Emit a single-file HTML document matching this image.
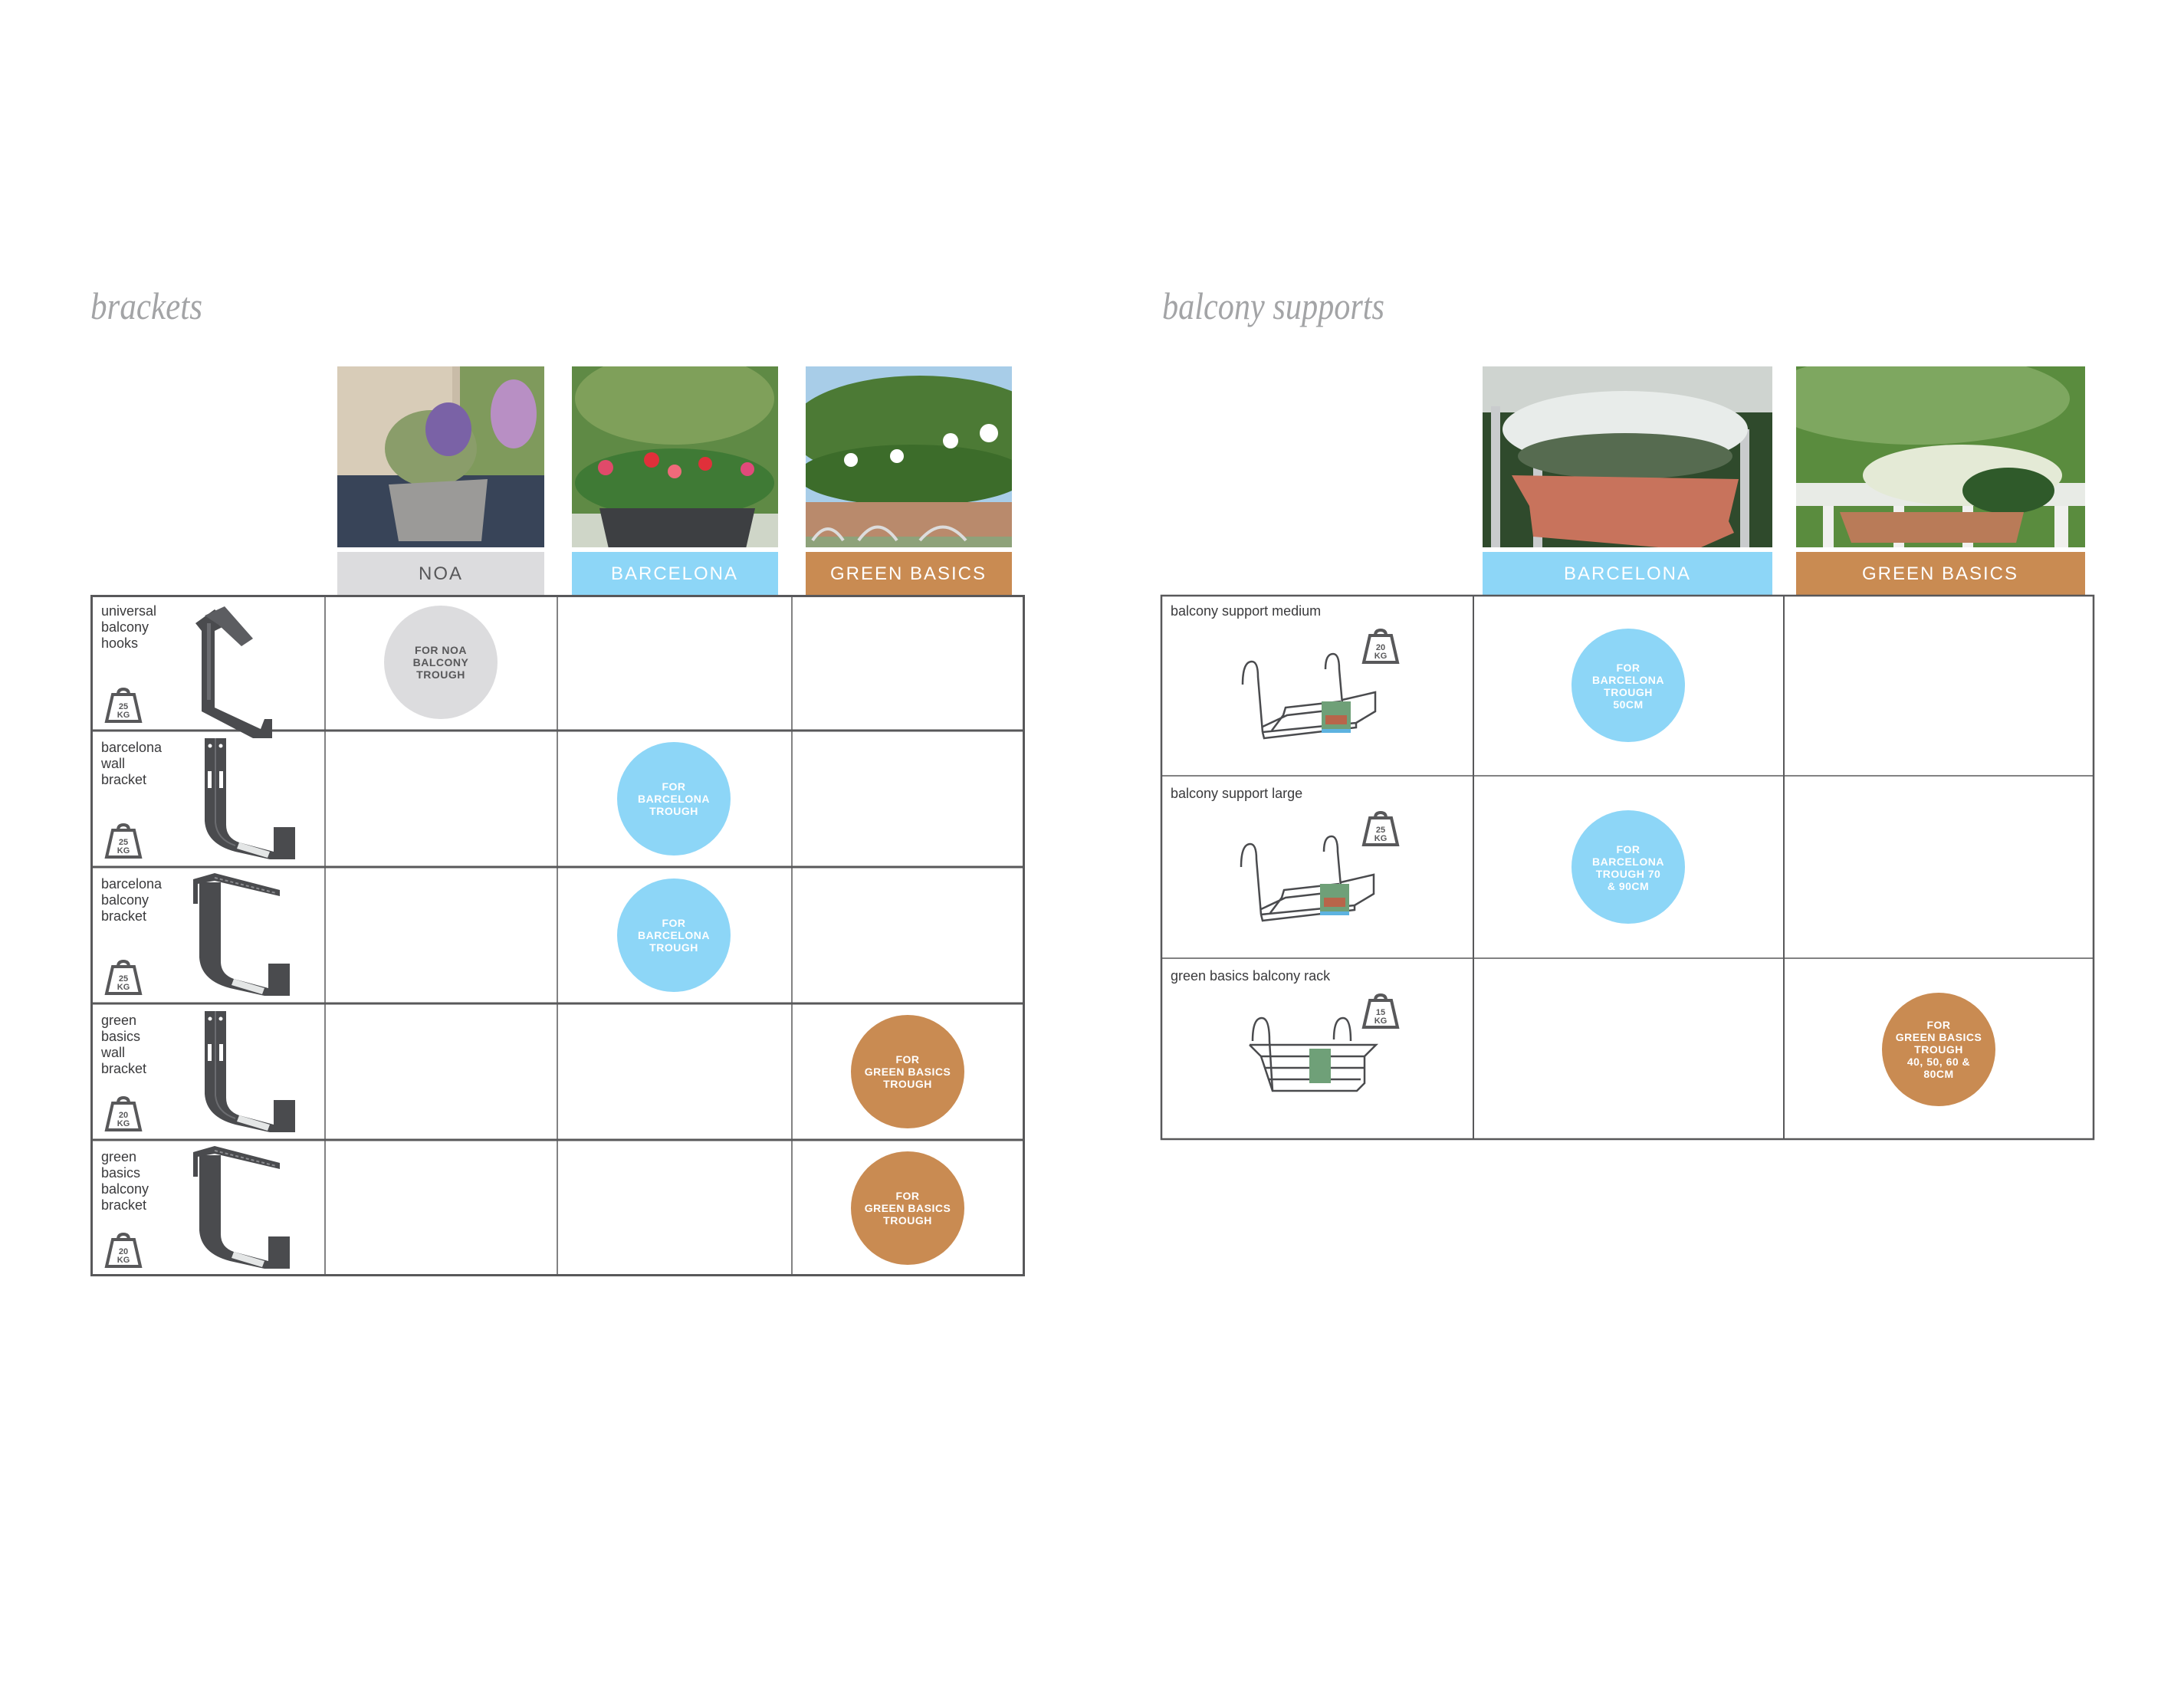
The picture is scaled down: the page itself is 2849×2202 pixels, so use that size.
<!DOCTYPE html>
<html><head><meta charset="utf-8"><style>
html,body{margin:0;padding:0;background:#fff;}
svg{display:block;}
</style></head><body>
<svg width="2849" height="2202" viewBox="0 0 2849 2202" xmlns="http://www.w3.org/2000/svg" font-family="'Liberation Sans Narrow','Liberation Sans',sans-serif">
<defs>
  <g id="wt">
    <path d="M18 10 Q18 3 25 3 Q32 3 32 10" fill="none" stroke="#58585a" stroke-width="4"/>
    <path d="M11 10 L39 10 L47 45 L3 45 Z" fill="#fff" stroke="#58585a" stroke-width="4" stroke-linejoin="miter"/>
  </g>
  <g id="brk">
    <path d="M10 2 L38 2 L38 115 Q38 132 55 138 L100 150 L100 118 L128 118 L128 160 L95 160 L50 150 Q12 140 10 110 Z" fill="#4a4b4e"/>
    <path d="M24 2 L24 112 Q26 134 50 142" fill="none" stroke="#6b6c70" stroke-width="2"/>
    <rect x="14" y="45" width="5" height="22" fill="#fff"/><rect x="29" y="45" width="5" height="22" fill="#fff"/>
    <circle cx="17" cy="12" r="2.5" fill="#fff"/><circle cx="31" cy="12" r="2.5" fill="#fff"/>
    <path d="M55 138 L95 150 L92 158 L52 146 Z" fill="#e4e6e6"/>
  </g>
  <g id="brk2">
    <path d="M10 12 L38 12 L38 115 Q38 132 55 138 L100 150 L100 118 L128 118 L128 160 L95 160 L50 150 Q12 140 10 110 Z" fill="#4a4b4e"/>
    <path d="M2 8 L30 0 L115 22 L115 30 L30 10 L8 14 L8 40 L2 40 Z" fill="#4a4b4e"/>
    <path d="M30 6 L110 26" stroke="#8a8b8f" stroke-width="2" stroke-dasharray="4 3"/>
    <path d="M55 138 L95 150 L92 158 L52 146 Z" fill="#e4e6e6"/>
  </g>
  <g id="rack">
    <g fill="none" stroke="#4a4b4e" stroke-width="2.5">
      <path d="M2 40 Q2 10 14 10 Q22 10 22 30 L28 102"/>
      <path d="M110 20 Q110 0 120 0 Q128 0 128 20 L132 65"/>
      <path d="M28 102 L150 90 L175 75 L175 50 L132 60"/>
      <path d="M28 95 L60 80 L130 72"/>
      <path d="M40 100 L55 80 L58 70 L130 62"/>
      <path d="M28 102 L30 110 L150 96 L150 90"/>
    </g>
    <rect x="105" y="62" width="38" height="38" fill="#6fa078"/>
    <rect x="110" y="80" width="28" height="12" fill="#b8654a"/>
    <rect x="105" y="98" width="38" height="5" fill="#5db3e0"/>
  </g>
  <clipPath id="c1"><rect x="440" y="478" width="270" height="236"/></clipPath>
  <clipPath id="c2"><rect x="746" y="478" width="269" height="236"/></clipPath>
  <clipPath id="c3"><rect x="1051" y="478" width="269" height="236"/></clipPath>
  <clipPath id="c4"><rect x="1934" y="478" width="378" height="236"/></clipPath>
  <clipPath id="c5"><rect x="2343" y="478" width="377" height="236"/></clipPath>
</defs>

<!-- titles -->
<text x="118" y="416" font-family="'Liberation Serif',serif" font-style="italic" font-size="50" fill="#a3a4a6" textLength="146" lengthAdjust="spacingAndGlyphs">brackets</text>
<text x="1516" y="416" font-family="'Liberation Serif',serif" font-style="italic" font-size="50" fill="#a3a4a6" textLength="290" lengthAdjust="spacingAndGlyphs">balcony supports</text>

<!-- photo 1 NOA -->
<g clip-path="url(#c1)">
  <rect x="440" y="478" width="270" height="236" fill="#c9bca8"/>
  <rect x="440" y="478" width="150" height="230" fill="#d8ccb8"/>
  <rect x="600" y="478" width="110" height="236" fill="#7f9a5c"/>
  <ellipse cx="670" cy="540" rx="30" ry="45" fill="#b88fc4"/>
  <rect x="440" y="620" width="270" height="94" fill="#384458"/>
  <ellipse cx="562" cy="585" rx="60" ry="50" fill="#8a9d6a"/>
  <ellipse cx="585" cy="560" rx="30" ry="35" fill="#7a62a6"/>
  <path d="M507 632 L636 625 L628 706 L520 706 Z" fill="#9b9a98"/>
</g>
<!-- photo 2 Barcelona -->
<g clip-path="url(#c2)">
  <rect x="746" y="478" width="269" height="236" fill="#5f8a45"/>
  <ellipse cx="880" cy="520" rx="130" ry="60" fill="#7fa05a"/>
  <ellipse cx="880" cy="630" rx="130" ry="45" fill="#3f7a35"/>
  <circle cx="790" cy="610" r="10" fill="#e04a6a"/><circle cx="850" cy="600" r="10" fill="#e0303a"/><circle cx="920" cy="605" r="9" fill="#e0303a"/><circle cx="975" cy="612" r="9" fill="#e04a7a"/><circle cx="880" cy="615" r="9" fill="#f06a7a"/>
  <rect x="746" y="670" width="269" height="44" fill="#cfd6c8"/>
  <path d="M782 663 L985 663 L972 720 L795 720 Z" fill="#3d3f42"/>
</g>
<!-- photo 3 Green basics -->
<g clip-path="url(#c3)">
  <rect x="1051" y="478" width="269" height="236" fill="#a8cde8"/>
  <ellipse cx="1200" cy="560" rx="170" ry="70" fill="#4c7a35"/>
  <ellipse cx="1190" cy="620" rx="150" ry="40" fill="#3c6c2a"/>
  <circle cx="1240" cy="575" r="10" fill="#fff"/><circle cx="1290" cy="565" r="12" fill="#fff"/><circle cx="1170" cy="595" r="9" fill="#fff"/><circle cx="1110" cy="600" r="9" fill="#fff"/>
  <rect x="1051" y="655" width="269" height="59" fill="#8ea27a"/>
  <path d="M1051 655 L1330 655 L1327 700 L1051 700 Z" fill="#b98a6c"/>
  <path d="M1060 705 q20 -30 40 0 M1120 705 q25 -35 50 0 M1200 705 q30 -35 60 0" stroke="#dcdcdc" stroke-width="4" fill="none"/>
</g>
<!-- photo 4 -->
<g clip-path="url(#c4)">
  <rect x="1934" y="478" width="378" height="236" fill="#2f4a2c"/>
  <rect x="1934" y="478" width="378" height="60" fill="#cfd4d0"/>
  <rect x="1945" y="530" width="12" height="184" fill="#c9cbcd"/><rect x="2000" y="600" width="12" height="114" fill="#c9cbcd"/><rect x="2270" y="560" width="12" height="154" fill="#c9cbcd"/>
  <ellipse cx="2120" cy="560" rx="160" ry="50" fill="#e8ecea"/>
  <ellipse cx="2120" cy="595" rx="140" ry="30" fill="#566b50"/>
  <path d="M1972 620 L2268 625 L2255 680 L2262 695 L2210 718 L2000 700 L1995 660 Z" fill="#c8735c"/>
</g>
<!-- photo 5 -->
<g clip-path="url(#c5)">
  <rect x="2343" y="478" width="377" height="236" fill="#5a8c3e"/>
  <ellipse cx="2500" cy="520" rx="200" ry="60" fill="#7ea760"/>
  <rect x="2343" y="630" width="377" height="30" fill="#e8ebe6"/>
  <rect x="2378" y="660" width="14" height="54" fill="#f0f0ee"/><rect x="2470" y="660" width="14" height="54" fill="#f0f0ee"/><rect x="2560" y="660" width="14" height="54" fill="#f0f0ee"/><rect x="2680" y="660" width="18" height="54" fill="#f0f0ee"/>
  <ellipse cx="2560" cy="620" rx="130" ry="40" fill="#e4ead6"/>
  <ellipse cx="2620" cy="640" rx="60" ry="30" fill="#2f5a2a"/>
  <path d="M2400 668 L2640 668 L2630 708 L2415 708 Z" fill="#b97b58"/>
</g>

<!-- headers -->
<g font-family="'Liberation Sans',sans-serif" font-size="24" text-anchor="middle" letter-spacing="2">
  <rect x="440" y="720" width="270" height="56" fill="#dcdcde"/>
  <text x="575" y="756" fill="#58585a">NOA</text>
  <rect x="746" y="720" width="269" height="56" fill="#8dd6f7"/>
  <text x="880" y="756" fill="#fff">BARCELONA</text>
  <rect x="1051" y="720" width="269" height="56" fill="#c98b52"/>
  <text x="1185" y="756" fill="#fff">GREEN BASICS</text>
  <rect x="1934" y="720" width="378" height="56" fill="#8dd6f7"/>
  <text x="2123" y="756" fill="#fff">BARCELONA</text>
  <rect x="2343" y="720" width="377" height="56" fill="#c98b52"/>
  <text x="2531" y="756" fill="#fff">GREEN BASICS</text>
</g>

<!-- left table -->
<g stroke="#58585a" fill="none">
  <rect x="119.5" y="777.5" width="1216" height="886" stroke-width="3"/>
  <path d="M424 777 V1664 M727 777 V1664 M1033 777 V1664" stroke-width="1.5"/>
  <path d="M119 953 H1336 M119 1131 H1336 M119 1309 H1336 M119 1487 H1336" stroke-width="3"/>
</g>
<!-- right table -->
<g stroke="#58585a" fill="none">
  <rect x="1515" y="777" width="1216" height="709" stroke-width="2.5"/>
  <path d="M1922 777 V1487 M2327 777 V1487" stroke-width="2"/>
  <path d="M1515 1012 H2732 M1515 1250 H2732" stroke-width="1.5"/>
</g>

<!-- left labels -->
<g font-size="18" fill="#3a3a3c">
  <text x="132" y="803">universal</text><text x="132" y="824">balcony</text><text x="132" y="845">hooks</text>
  <text x="132" y="981">barcelona</text><text x="132" y="1002">wall</text><text x="132" y="1023">bracket</text>
  <text x="132" y="1159">barcelona</text><text x="132" y="1180">balcony</text><text x="132" y="1201">bracket</text>
  <text x="132" y="1337">green</text><text x="132" y="1358">basics</text><text x="132" y="1379">wall</text><text x="132" y="1400">bracket</text>
  <text x="132" y="1515">green</text><text x="132" y="1536">basics</text><text x="132" y="1557">balcony</text><text x="132" y="1578">bracket</text>
</g>
<!-- weights left -->
<g font-size="11" font-weight="bold" fill="#58585a" text-anchor="middle">
  <use href="#wt" x="136" y="896"/><text x="161" y="925">25</text><text x="161" y="936">KG</text>
  <use href="#wt" x="136" y="1073"/><text x="161" y="1102">25</text><text x="161" y="1113">KG</text>
  <use href="#wt" x="136" y="1251"/><text x="161" y="1280">25</text><text x="161" y="1291">KG</text>
  <use href="#wt" x="136" y="1429"/><text x="161" y="1458">20</text><text x="161" y="1469">KG</text>
  <use href="#wt" x="136" y="1607"/><text x="161" y="1636">20</text><text x="161" y="1647">KG</text>
</g>
<!-- brackets -->
<g transform="translate(245,793)">
  <path d="M10 20 L35 2 L55 20 L35 30 L35 130 L95 158 L100 145 L110 145 L110 170 L85 170 L18 135 L18 30 Z" fill="#4a4b4e"/>
  <path d="M22 10 L48 -2 L85 40 L70 50 L40 22" fill="#5c5d61"/>
  <rect x="25" y="20" width="5" height="100" fill="#6b6c70"/>
</g>
<use href="#brk" x="257" y="961"/>
<use href="#brk2" x="250" y="1139"/>
<use href="#brk" x="257" y="1317"/>
<use href="#brk2" x="250" y="1495"/>

<!-- circles -->
<g font-family="'Liberation Sans',sans-serif" font-size="14" font-weight="bold" text-anchor="middle" letter-spacing="0.5">
  <circle cx="575" cy="864" r="74" fill="#dcdcde"/>
  <text x="575" y="853" fill="#58585a">FOR NOA</text><text x="575" y="869" fill="#58585a">BALCONY</text><text x="575" y="885" fill="#58585a">TROUGH</text>
  <circle cx="879" cy="1042" r="74" fill="#8dd6f7"/>
  <text x="879" y="1031" fill="#fff">FOR</text><text x="879" y="1047" fill="#fff">BARCELONA</text><text x="879" y="1063" fill="#fff">TROUGH</text>
  <circle cx="879" cy="1220" r="74" fill="#8dd6f7"/>
  <text x="879" y="1209" fill="#fff">FOR</text><text x="879" y="1225" fill="#fff">BARCELONA</text><text x="879" y="1241" fill="#fff">TROUGH</text>
  <circle cx="1184" cy="1398" r="74" fill="#c98b52"/>
  <text x="1184" y="1387" fill="#fff">FOR</text><text x="1184" y="1403" fill="#fff">GREEN BASICS</text><text x="1184" y="1419" fill="#fff">TROUGH</text>
  <circle cx="1184" cy="1576" r="74" fill="#c98b52"/>
  <text x="1184" y="1565" fill="#fff">FOR</text><text x="1184" y="1581" fill="#fff">GREEN BASICS</text><text x="1184" y="1597" fill="#fff">TROUGH</text>

  <circle cx="2124" cy="894" r="74" fill="#8dd6f7"/>
  <text x="2124" y="876" fill="#fff">FOR</text><text x="2124" y="892" fill="#fff">BARCELONA</text><text x="2124" y="908" fill="#fff">TROUGH</text><text x="2124" y="924" fill="#fff">50CM</text>
  <circle cx="2124" cy="1131" r="74" fill="#8dd6f7"/>
  <text x="2124" y="1113" fill="#fff">FOR</text><text x="2124" y="1129" fill="#fff">BARCELONA</text><text x="2124" y="1145" fill="#fff">TROUGH 70</text><text x="2124" y="1161" fill="#fff">&amp; 90CM</text>
  <circle cx="2529" cy="1369" r="74" fill="#c98b52"/>
  <text x="2529" y="1342" fill="#fff">FOR</text><text x="2529" y="1358" fill="#fff">GREEN BASICS</text><text x="2529" y="1374" fill="#fff">TROUGH</text><text x="2529" y="1390" fill="#fff">40, 50, 60 &amp;</text><text x="2529" y="1406" fill="#fff">80CM</text>
</g>

<!-- right labels -->
<g font-size="18" fill="#3a3a3c">
  <text x="1527" y="803">balcony support medium</text>
  <text x="1527" y="1041">balcony support large</text>
  <text x="1527" y="1279">green basics balcony rack</text>
</g>
<g font-size="11" font-weight="bold" fill="#58585a" text-anchor="middle">
  <use href="#wt" x="1776" y="819"/><text x="1801" y="848">20</text><text x="1801" y="859">KG</text>
  <use href="#wt" x="1776" y="1057"/><text x="1801" y="1086">25</text><text x="1801" y="1097">KG</text>
  <use href="#wt" x="1776" y="1295"/><text x="1801" y="1324">15</text><text x="1801" y="1335">KG</text>
</g>
<use href="#rack" x="1619" y="853"/>
<use href="#rack" x="1617" y="1091"/>
<g transform="translate(1630,1318)" fill="none" stroke="#4a4b4e" stroke-width="2.5">
  <path d="M4 40 Q4 10 16 10 Q26 10 26 40 L30 105"/>
  <path d="M110 38 Q110 10 122 10 Q132 10 132 40"/>
  <path d="M0 45 L165 45 L150 60 L150 95 L140 105 L30 105 L15 60 L0 45"/>
  <path d="M15 60 L150 60 M20 75 L150 75 M25 90 L145 90"/>
  <rect x="78" y="50" width="28" height="45" fill="#6fa078" stroke="none"/>
</g>
</svg>
</body></html>
